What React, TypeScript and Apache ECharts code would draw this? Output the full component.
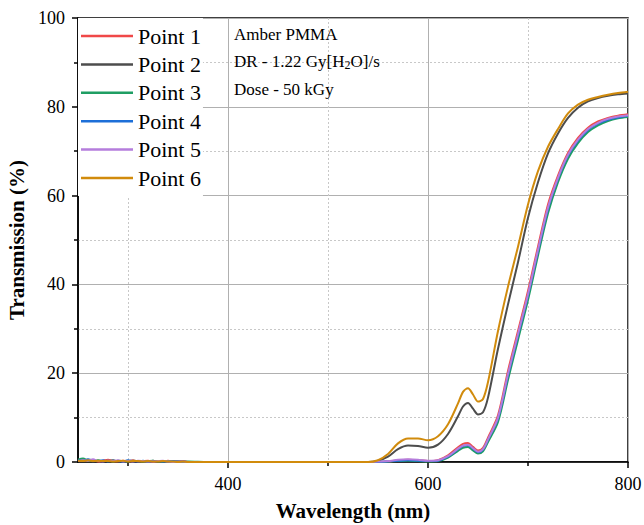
import { useEffect, useRef } from "react";
import * as echarts from "echarts";

// Wavelength sampling (nm): noisy UV start, flat opaque region, absorption edge
const WL_NOISE = [250, 255, 260, 265, 270, 275, 280, 285, 290, 295, 300, 305, 310, 315, 320, 325, 330, 335, 340, 345, 350, 355, 360];
const WL_FLAT = [380, 420, 460, 500, 530];
const WL_EDGE = [540, 550, 560, 570, 580, 590, 600, 610, 620, 630, 635, 640, 645, 650, 655, 660, 670, 680, 690, 700, 710, 720, 730, 740, 750, 760, 770, 780, 790, 800];

const SERIES_NAMES = ["Point 1", "Point 2", "Point 3", "Point 4", "Point 5", "Point 6"];
const SERIES_COLORS = ["#f04848", "#4d4d4d", "#1f9e63", "#1d6fd8", "#b57ddc", "#d18b0c"];

// Transmission (%) per measurement point
const P1_NOISE = [0.3, 0.6, 0.2, 0.4, 0.1, 0.3, 0.5, 0.2, 0.1, 0.3, 0.2, 0.4, 0.1, 0.2, 0.3, 0.1, 0.2, 0.1, 0.3, 0.1, 0.1, 0.2, 0.0];
const P2_NOISE = [0.2, 0.3, 0.5, 0.1, 0.3, 0.2, 0.2, 0.4, 0.1, 0.2, 0.3, 0.1, 0.2, 0.2, 0.1, 0.3, 0.1, 0.2, 0.1, 0.1, 0.2, 0.1, 0.0];
const P3_NOISE = [0.5, 0.8, 0.3, 0.2, 0.4, 0.2, 0.3, 0.1, 0.3, 0.2, 0.1, 0.3, 0.2, 0.1, 0.2, 0.3, 0.1, 0.1, 0.2, 0.1, 0.1, 0.0, 0.1];
const P4_NOISE = [0.4, 0.2, 0.6, 0.3, 0.2, 0.4, 0.1, 0.3, 0.2, 0.1, 0.4, 0.2, 0.1, 0.3, 0.1, 0.2, 0.2, 0.1, 0.1, 0.2, 0.0, 0.1, 0.0];
const P5_NOISE = [0.2, 0.4, 0.3, 0.6, 0.2, 0.1, 0.3, 0.2, 0.4, 0.1, 0.2, 0.1, 0.3, 0.2, 0.1, 0.1, 0.2, 0.3, 0.1, 0.0, 0.1, 0.1, 0.0];
const P6_NOISE = [0.3, 0.2, 0.4, 0.2, 0.3, 0.2, 0.2, 0.1, 0.2, 0.3, 0.1, 0.2, 0.2, 0.1, 0.2, 0.1, 0.1, 0.2, 0.1, 0.1, 0.0, 0.1, 0.0];

const FLAT = [0, 0, 0, 0, 0];

const P1_EDGE = [0, 0, 0.1, 0.4, 0.5, 0.4, 0.2, 0.4, 1.5, 3.3, 4.1, 4.3, 3.4, 2.6, 3.2, 5.5, 10.5, 20.5, 29.5, 38.5, 48.5, 58.0, 64.5, 69.6, 73.0, 75.3, 76.7, 77.5, 78.0, 78.3];
const P2_EDGE = [0, 0.3, 1.2, 2.9, 3.7, 3.6, 3.2, 3.9, 6.3, 10.3, 12.5, 13.3, 12.0, 10.7, 11.2, 14.5, 25.5, 35.5, 45.0, 55.0, 63.0, 69.5, 74.0, 77.5, 79.8, 81.2, 82.0, 82.5, 82.8, 83.0];
const P3_EDGE = [0, 0, 0.1, 0.2, 0.3, 0.2, 0.1, 0.2, 1.0, 2.5, 3.2, 3.4, 2.6, 1.9, 2.4, 4.5, 9.0, 18.5, 27.5, 36.5, 46.5, 56.0, 63.0, 68.3, 71.8, 74.3, 75.8, 76.8, 77.4, 77.7];
const P4_EDGE = [0, 0, 0.1, 0.3, 0.4, 0.3, 0.2, 0.3, 1.2, 2.9, 3.6, 3.8, 3.0, 2.2, 2.8, 5.0, 9.8, 19.5, 28.5, 37.5, 47.5, 57.0, 63.8, 69.0, 72.4, 74.8, 76.2, 77.1, 77.6, 78.0];
const P5_EDGE = [0, 0.1, 0.2, 0.5, 0.6, 0.5, 0.3, 0.4, 1.3, 3.0, 3.7, 3.9, 3.1, 2.3, 2.9, 5.1, 10.0, 19.8, 28.8, 37.8, 47.8, 57.3, 64.0, 69.2, 72.6, 75.0, 76.4, 77.3, 77.8, 78.1];
const P6_EDGE = [0, 0.4, 1.8, 4.2, 5.3, 5.3, 4.9, 5.8, 8.5, 13.2, 15.8, 16.6, 15.2, 13.6, 14.2, 18.0, 29.5, 39.5, 48.5, 58.0, 65.5, 71.0, 75.0, 78.5, 80.5, 81.6, 82.2, 82.7, 83.1, 83.4];

const NOISE = [P1_NOISE, P2_NOISE, P3_NOISE, P4_NOISE, P5_NOISE, P6_NOISE];
const EDGE = [P1_EDGE, P2_EDGE, P3_EDGE, P4_EDGE, P5_EDGE, P6_EDGE];

const X_LABELS = [400, 600, 800];

const SERIF = "Liberation Serif";

function buildSeries() {
  const wl = [...WL_NOISE, ...WL_FLAT, ...WL_EDGE];
  return SERIES_NAMES.map((name, i) => {
    const values = [...NOISE[i], ...FLAT, ...EDGE[i]];
    return {
      name,
      type: "line",
      data: wl.map((w, k) => [w, values[k]]),
      symbol: "none",
      showSymbol: false,
      smooth: 0.3,
      lineStyle: { color: SERIES_COLORS[i], width: 2 },
      itemStyle: { color: SERIES_COLORS[i] },
      z: 2 + i,
    };
  });
}

export default function App() {
  const ref = useRef<HTMLDivElement>(null);

  useEffect(() => {
    if (!ref.current) return;
    const chart = echarts.init(ref.current, null, { renderer: "svg" });

    const axisLine = { show: true, onZero: false, lineStyle: { color: "#000", width: 1.5 } };
    const tickStyle = { color: "#000", width: 1.5 };
    const major = { show: true, lineStyle: { color: "#b0b0b0", width: 1 } };
    const minor = { show: true, lineStyle: { color: "#c8c8c8", width: 1, type: [2, 2] } };
    const legendFont = { fontSize: 22, lineHeight: 24, fontFamily: SERIF, color: "#000" };

    chart.setOption({
      animation: false,
      backgroundColor: "#fff",
      textStyle: { fontFamily: SERIF },
      grid: {
        left: 78,
        right: 16,
        top: 18,
        bottom: 63,
        containLabel: false,
        outerBoundsMode: "none",
        show: true,
        borderColor: "#000",
        borderWidth: 1.5,
        backgroundColor: "transparent",
      },
      legend: {
        orient: "vertical",
        left: 78,
        top: 18,
        padding: [6, 2, 6, 3],
        backgroundColor: "#fff",
        icon: "rect",
        itemWidth: 52,
        itemHeight: 2.5,
        itemGap: 4.4,
        formatter: "{t|{name}}",
        textStyle: { ...legendFont, rich: { t: legendFont } },
        data: SERIES_NAMES,
      },
      xAxis: {
        type: "value",
        min: 250,
        max: 800,
        splitNumber: 3,
        minInterval: 200,
        maxInterval: 200,
        axisLine,
        axisTick: { show: true, inside: false, length: 6, lineStyle: tickStyle, customValues: X_LABELS },
        minorTick: { show: true, splitNumber: 2, length: 4, lineStyle: tickStyle },
        axisLabel: { customValues: X_LABELS, color: "#000", fontSize: 18, fontFamily: SERIF, margin: 13 },
        splitLine: major,
        minorSplitLine: minor,
        name: "Wavelength (nm)",
        nameLocation: "middle",
        nameGap: 38,
        nameTextStyle: { fontSize: 21, fontWeight: "bold", fontFamily: SERIF, color: "#000" },
      },
      yAxis: {
        type: "value",
        min: 0,
        max: 100,
        interval: 20,
        axisLine,
        axisTick: { show: true, inside: false, length: 6, lineStyle: tickStyle },
        minorTick: { show: true, splitNumber: 2, length: 4, lineStyle: tickStyle },
        axisLabel: { color: "#000", fontSize: 18, fontFamily: SERIF, margin: 13 },
        splitLine: major,
        minorSplitLine: minor,
        name: "Transmission (%)",
        nameLocation: "middle",
        nameGap: 46,
        nameTextStyle: { fontSize: 21, fontWeight: "bold", fontFamily: SERIF, color: "#000" },
      },
      graphic: [
        {
          type: "text",
          x: 234,
          y: 34,
          z: 10,
          style: { text: "Amber PMMA", fontSize: 17, fontFamily: SERIF, fill: "#000", verticalAlign: "middle" },
        },
        {
          type: "text",
          x: 234,
          y: 61,
          z: 10,
          style: {
            text: "{a|DR - 1.22 Gy[H}{s|2}{a|O]/s}",
            fill: "#000",
            verticalAlign: "middle",
            rich: {
              a: { fontSize: 17, fontFamily: SERIF, lineHeight: 20, fill: "#000" },
              s: { fontSize: 12, fontFamily: SERIF, lineHeight: 12, verticalAlign: "bottom", fill: "#000" },
            },
          },
        },
        {
          type: "text",
          x: 234,
          y: 89,
          z: 10,
          style: { text: "Dose - 50 kGy", fontSize: 17, fontFamily: SERIF, fill: "#000", verticalAlign: "middle" },
        },
      ],
      series: buildSeries(),
    });

    return () => chart.dispose();
  }, []);

  return (
    <div
      ref={ref}
      style={{ position: "absolute", left: 0, top: 0, width: 644, height: 525 }}
    />
  );
}
